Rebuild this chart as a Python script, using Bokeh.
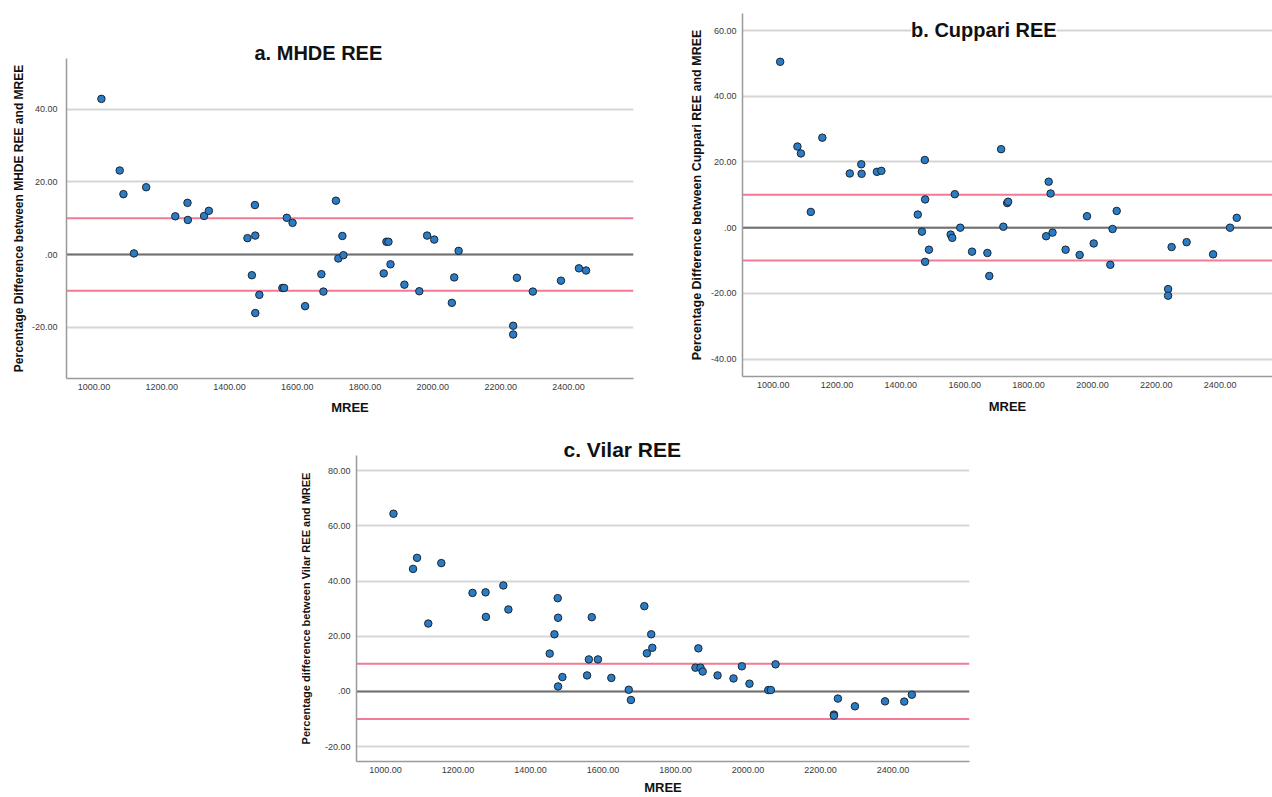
from bokeh.plotting import figure
from bokeh.models import FixedTicker, Span, Label, ColumnDataSource, Spacer, Range1d, Title
from bokeh.layouts import row, column
from bokeh.embed import file_html
from bokeh.resources import INLINE

# ---------------- data ----------------
mree = [1022, 1076, 1087, 1118, 1154, 1240, 1276, 1277, 1325, 1339,
        1453, 1466, 1475, 1476, 1476, 1488, 1556, 1561, 1569, 1586,
        1623, 1671, 1677, 1714, 1721, 1733, 1736, 1855, 1863, 1869,
        1875, 1916, 1960, 1983, 2004, 2056, 2063, 2076, 2237, 2237,
        2248, 2295, 2378, 2431, 2452]

mhde_diff = [42.8, 23.1, 16.6, 0.3, 18.5, 10.5, 14.2, 9.5, 10.6, 12.0,
             4.5, -5.7, 13.6, 5.2, -16.1, -11.1, -9.2, -9.2, 10.1, 8.7,
             -14.2, -5.4, -10.2, 14.8, -1.1, 5.1, -0.2, -5.2, 3.5, 3.5,
             -2.7, -8.3, -10.1, 5.2, 4.1, -13.3, -6.3, 1.0, -19.6, -22.0,
             -6.4, -10.2, -7.2, -3.8, -4.4]

cuppari_diff = [50.5, 24.7, 22.6, 4.8, 27.4, 16.5, 19.3, 16.4, 17.0, 17.3,
                4.0, -1.2, 20.6, 8.6, -10.4, -6.7, -2.1, -3.1, 10.2, 0.0,
                -7.3, -7.7, -14.7, 23.9, 0.3, 7.5, 7.9, -2.6, 14.0, 10.4,
                -1.5, -6.7, -8.3, 3.5, -4.8, -11.3, -0.4, 5.1, -18.7, -20.7,
                -5.9, -4.4, -8.1, 0.0, 3.0]

vilar_diff = [64.4, 44.4, 48.4, 24.6, 46.5, 35.7, 35.9, 27.0, 38.4, 29.7,
              13.7, 20.7, 33.8, 26.7, 1.8, 5.2, 5.8, 11.6, 26.9, 11.6,
              4.9, 0.6, -3.1, 30.9, 13.8, 20.7, 15.8, 8.6, 15.6, 8.6,
              7.2, 5.8, 4.7, 9.1, 2.8, 0.5, 0.5, 9.8, -8.4, -8.8,
              -2.6, -5.4, -3.6, -3.7, -1.2]

x_ticks = [1000, 1200, 1400, 1600, 1800, 2000, 2200, 2400]
x_tick_labels = ["1000.00", "1200.00", "1400.00", "1600.00",
                 "1800.00", "2000.00", "2200.00", "2400.00"]

ticks_a = [-20, 0, 20, 40]
ticks_b = [-40, -20, 0, 20, 40, 60]
ticks_c = [-20, 0, 20, 40, 60, 80]


def tick_text(v):
    return ".00" if v == 0 else f"{v:.2f}"


limits = [-10, 10]

titles = ["a. MHDE REE", "b. Cuppari REE", "c. Vilar REE"]
y_titles = ["Percentage Difference between MHDE REE and MREE",
            "Percentage Difference between Cuppari REE and MREE",
            "Percentage difference between Vilar REE and MREE"]
x_title = "MREE"

FONT = "Liberation Sans"


def panel(xv, yv, yticks, ytitle, width, height, borders,
          xr, yr, tick_standoff, label_standoff, ytitle_size, x_label_standoff):
    p = figure(width=width, height=height, output_backend="svg",
               toolbar_location=None,
               x_range=Range1d(*xr), y_range=Range1d(*yr),
               min_border_left=borders[0], min_border_right=borders[1],
               min_border_top=borders[2], min_border_bottom=borders[3])
    p.title.visible = False
    p.outline_line_color = None
    p.background_fill_color = "white"
    p.border_fill_color = "white"

    p.xgrid.visible = False
    p.ygrid.ticker = FixedTicker(ticks=yticks)
    p.ygrid.grid_line_color = "#d6d6d6"
    p.ygrid.grid_line_width = 2

    for ax in (p.xaxis[0], p.yaxis[0]):
        ax.axis_line_color = "#9a9a9a"
        ax.axis_line_width = 1.5
        ax.major_tick_line_color = None
        ax.minor_tick_line_color = None
        ax.major_tick_out = 0
        ax.major_tick_in = 0
        ax.minor_tick_out = 0
        ax.minor_tick_in = 0
        ax.major_label_text_font = FONT
        ax.major_label_text_font_size = "9px"
        ax.major_label_text_color = "#3a3a3a"
        ax.axis_label_text_font = FONT
        ax.axis_label_text_font_style = "bold"
        ax.axis_label_text_color = "#111111"

    p.xaxis.ticker = FixedTicker(ticks=x_ticks)
    p.xaxis.major_label_overrides = {t: l for t, l in zip(x_ticks, x_tick_labels)}
    p.xaxis.major_label_standoff = 5
    p.xaxis.axis_label = x_title
    p.xaxis.axis_label_text_font_size = "13px"
    p.xaxis.axis_label_standoff = x_label_standoff

    p.yaxis.ticker = FixedTicker(ticks=yticks)
    p.yaxis.major_label_overrides = {t: tick_text(t) for t in yticks}
    p.yaxis.major_label_standoff = tick_standoff
    p.yaxis.axis_label = ytitle
    p.yaxis.axis_label_text_font_size = ytitle_size
    p.yaxis.axis_label_standoff = label_standoff

    p.add_layout(Span(location=0, dimension="width", line_color="#707070",
                      line_width=2, level="underlay"))
    for lim in limits:
        p.add_layout(Span(location=lim, dimension="width", line_color="#f27a95",
                          line_width=2, level="underlay"))

    src = ColumnDataSource(dict(x=xv, y=yv))
    p.scatter(x="x", y="y", source=src, size=7.5, fill_color="#2a7cc6",
              line_color="#1b2633", line_width=1)
    return p


def add_title(p, text, offset, standoff, size):
    t = Title(text=text, align="left", offset=offset, standoff=standoff,
              text_font=FONT, text_font_size=size, text_font_style="bold",
              text_color="#111111")
    p.add_layout(t, "above")


# panel a
pa = panel(mree, mhde_diff, ticks_a, y_titles[0],
           660, 430, (66, 27, 58, 52),
           (919, 2592), (-34.1, 53.9), 9, 3, "12px", 7)
add_title(pa, titles[0], 188, -11, "20px")

# panel b (title overlaps the plot area, so it is a label inside it)
pb = panel(mree, cuppari_diff, ticks_b, y_titles[1],
           612, 430, (82, 0, 13, 54),
           (904, 2564), (-45.3, 65.2), 6, 4, "12.5px", 8)
pb.add_layout(Label(x=1660, y=60.1, text=titles[1], text_font=FONT,
                    text_font_size="20px", text_font_style="bold",
                    text_align="center", text_baseline="middle",
                    text_color="#111111", background_fill_color="white"))

# panel c
pc = panel(mree, vilar_diff, ticks_c, y_titles[2],
           693, 367, (70, 10, 25, 34),
           (920, 2611), (-25.4, 85.5), 6, 10, "11px", 4)
add_title(pc, titles[2], 207, -11, "21px")

layout = column(row(column(pa), column(pb)),
                row(Spacer(width=286, height=367), pc))

with open("out.html", "w") as f:
    f.write(file_html(layout, INLINE))
